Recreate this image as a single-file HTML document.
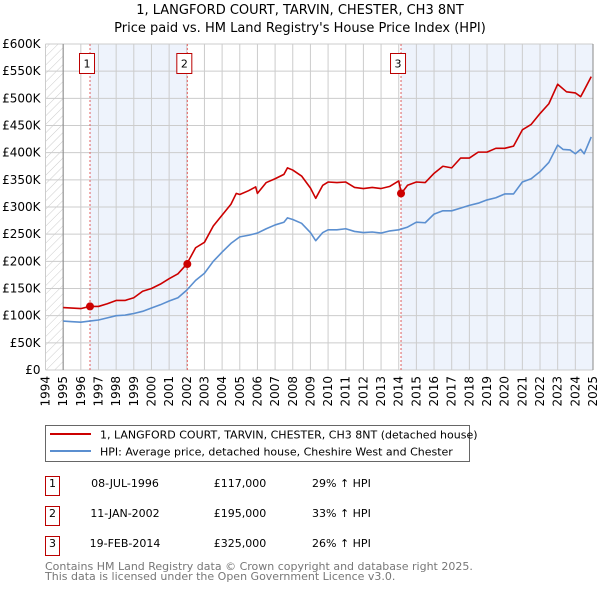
<!DOCTYPE html>
<html><head><meta charset="utf-8"><style>
body{margin:0;background:#fff;font-family:"DejaVu Sans","Liberation Sans",sans-serif;}
#wrap{position:relative;width:600px;height:590px;overflow:hidden}
</style></head><body>
<div id="wrap">
<svg id="svg" width="600" height="590" xmlns="http://www.w3.org/2000/svg" font-family="DejaVu Sans, Liberation Sans, sans-serif">
<defs><pattern id="hatch" width="6" height="6" patternUnits="userSpaceOnUse" patternTransform="rotate(45)"><line x1="0" y1="0" x2="0" y2="6" stroke="#ccc" stroke-width="1"/></pattern></defs>
<text x="300" y="14" text-anchor="middle" font-size="13" fill="#000">1, LANGFORD COURT, TARVIN, CHESTER, CH3 8NT</text>
<text x="300" y="32" text-anchor="middle" font-size="13" fill="#000">Price paid vs. HM Land Registry's House Price Index (HPI)</text>
<g id="plot"></g>
<g>
<rect x="45.5" y="425.5" width="424" height="36" fill="#fff" stroke="#666"/>
<line x1="50" y1="434" x2="91" y2="434" stroke="#cc0000" stroke-width="2"/>
<text x="100" y="438.5" font-size="11">1, LANGFORD COURT, TARVIN, CHESTER, CH3 8NT (detached house)</text>
<line x1="50" y1="451" x2="91" y2="451" stroke="#5b8fd0" stroke-width="2"/>
<text x="100" y="455.5" font-size="11">HPI: Average price, detached house, Cheshire West and Chester</text>
</g>
<g id="table" font-size="11"></g>
<text x="45" y="570" font-size="11" fill="#777">Contains HM Land Registry data © Crown copyright and database right 2025.</text>
<text x="45" y="580" font-size="11" fill="#777">This data is licensed under the Open Government Licence v3.0.</text>
</svg>
</div>
<script>
const hpiYears=[1995,1995.5,1996,1996.5,1997,1997.5,1998,1998.5,1999,1999.5,2000,2000.5,2001,2001.5,2002,2002.5,2003,2003.5,2004,2004.5,2005,2005.5,2006,2006.5,2007,2007.5,2007.7,2008,2008.5,2009,2009.3,2009.7,2010,2010.5,2011,2011.5,2012,2012.5,2013,2013.5,2014,2014.5,2015,2015.5,2016,2016.5,2017,2017.5,2018,2018.5,2019,2019.5,2020,2020.5,2021,2021.5,2022,2022.5,2023,2023.3,2023.7,2024,2024.3,2024.5,2024.9];
const hpiValues=[90,89,88,90,92,96,100,101,104,108,114,120,127,133,147,165,178,200,217,233,245,248,252,260,267,272,280,277,270,253,238,253,258,258,260,255,253,254,252,256,258,263,272,271,287,293,293,298,303,307,313,317,324,324,346,352,365,382,414,406,405,398,406,398,429];
const priceYears=[1995,1995.5,1996,1996.5,1997,1997.5,1998,1998.5,1999,1999.5,2000,2000.5,2001,2001.5,2002,2002.5,2003,2003.5,2004,2004.5,2004.8,2005,2005.5,2005.9,2006,2006.5,2007,2007.5,2007.7,2008,2008.5,2009,2009.3,2009.7,2010,2010.5,2011,2011.5,2012,2012.5,2013,2013.5,2014,2014.15,2014.5,2015,2015.5,2016,2016.5,2017,2017.5,2018,2018.5,2019,2019.5,2020,2020.5,2021,2021.5,2022,2022.5,2023,2023.5,2024,2024.3,2024.5,2024.9];
const priceValues=[115,114,113,117,117,122,128,128,133,145,150,158,168,177,195,225,235,265,285,305,325,323,330,337,325,345,352,360,372,368,357,335,316,340,346,345,346,336,334,336,334,338,348,325,340,346,345,362,375,372,390,390,401,401,408,408,412,442,452,472,490,526,512,510,503,515,540];
const sales=[{n:"1",date:"08-JUL-1996",t:1996.52,price:117,label:"£117,000",hpi:"29% ↑ HPI"},{n:"2",date:"11-JAN-2002",t:2002.03,price:195,label:"£195,000",hpi:"33% ↑ HPI"},{n:"3",date:"19-FEB-2014",t:2014.13,price:325,label:"£325,000",hpi:"26% ↑ HPI"}];
const yTicks=[0,50,100,150,200,250,300,350,400,450,500,550,600];
const xTicks=[1994,1995,1996,1997,1998,1999,2000,2001,2002,2003,2004,2005,2006,2007,2008,2009,2010,2011,2012,2013,2014,2015,2016,2017,2018,2019,2020,2021,2022,2023,2024,2025];

const L=45.5,R=593,T=44,B=370;
const X=t=>L+(t-1994)*(R-L)/31;
const Y=v=>B-v*(B-T)/600;
const NS="http://www.w3.org/2000/svg";
const g=document.getElementById('plot');
function mk(tag,attrs,parent){const e=document.createElementNS(NS,tag);for(const k in attrs)e.setAttribute(k,attrs[k]);(parent||g).appendChild(e);return e;}

let r=mk('rect',{x:X(1994),y:T,width:X(1995)-X(1994),height:B-T,fill:'url(#hatch)'});


r=mk('rect',{x:X(sales[0].t),y:T,width:X(sales[1].t)-X(sales[0].t),height:B-T,fill:'#eef3fc'});


r=mk('rect',{x:X(sales[2].t),y:T,width:R-X(sales[2].t),height:B-T,fill:'#eef3fc'});



xTicks.forEach(t=>{const l=mk('line',{x1:X(t),x2:X(t),y1:T,y2:B,stroke:'#ccc','stroke-width':1});


const tx=mk('text',{x:0,y:0,'font-size':12,'text-anchor':'end',transform:`translate(${X(t)+4},${B+6}) rotate(-90)`});tx.textContent=t;

});
yTicks.forEach(v=>{const l=mk('line',{x1:L,x2:R,y1:Y(v),y2:Y(v),stroke:'#ccc','stroke-width':1});


const tx=mk('text',{x:L-5,y:Y(v)+4,'font-size':12,'text-anchor':'end'});tx.textContent=v===0?'£0':'£'+v+'K';

});
let ax=mk('line',{x1:X(1995),x2:X(1995),y1:T,y2:B,stroke:'#888'});


ax=mk('line',{x1:R,x2:R,y1:T,y2:B,stroke:'#888'});



sales.forEach(s=>{const l=mk('line',{x1:X(s.t),x2:X(s.t),y1:T,y2:B,stroke:'#e06060','stroke-dasharray':'2,2'});


const bx=mk('rect',{x:X(s.t)-10.5,y:53.5,width:15,height:20,fill:'#fff',stroke:'#b00'});


const tx=mk('text',{x:X(s.t)-3,y:67.5,'font-size':11,'text-anchor':'middle'});tx.textContent=s.n;

});

function line(xs,vs,color,name){const p=mk('polyline',{points:xs.map((t,i)=>X(t)+','+Y(vs[i])).join(' '),fill:'none',stroke:color,'stroke-width':1.6,'stroke-linejoin':'round'});

}
line(hpiYears,hpiValues,'#5b8fd0','hpi-line');
line(priceYears,priceValues,'#cc0000','price-paid-line');
sales.forEach(s=>{const c=mk('circle',{cx:X(s.t),cy:Y(s.price),r:4,fill:'#cc0000'});

});

const tb=document.getElementById('table');
sales.forEach((s,i)=>{const y=476+i*30;
const b=mk('rect',{x:45.5,y:y+0.5,width:14,height:19,fill:'#fff',stroke:'#b00'},tb);


const cells=[[52.5,s.n,'middle','num'],[125,s.date,'middle','date'],[240,s.label,'middle','price'],[312,s.hpi,'start','hpi-change']];
cells.forEach(c=>{const t=mk('text',{x:c[0],y:y+11,'text-anchor':c[2]},tb);t.textContent=c[1];

});});
</script>
</body></html>
